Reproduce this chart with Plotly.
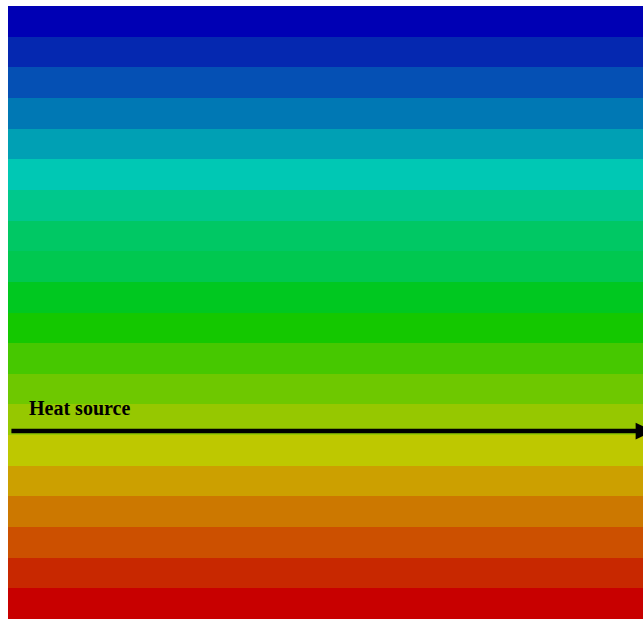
import plotly.graph_objects as go

# Band levels from bottom (hottest) to top (coolest)
levels = list(range(1, 21))
band_colors = [
    "#c80000", "#c82800", "#cc5000", "#cc7800", "#cca000", "#bec800",
    "#96c800", "#6ec800", "#46c800", "#14c800", "#00c820", "#00c850",
    "#00c864", "#00c88c", "#00c8b4", "#00a0b4", "#0078b4", "#0550b4",
    "#0528b0", "#0000b4",
]
label_text = "Heat source"
arrow_level = 6.13

n = len(levels)
colorscale = []
for i, c in enumerate(band_colors):
    colorscale.append([i / n, c])
    colorscale.append([(i + 1) / n, c])

fig = go.Figure(go.Heatmap(
    z=[[v] for v in levels],
    x=[0.5],
    y=[v - 0.5 for v in levels],
    colorscale=colorscale,
    zmin=0.5, zmax=n + 0.5,
    showscale=False,
    hoverinfo="skip",
))

fig.add_annotation(
    x=1.015, y=arrow_level, xref="x", yref="y",
    ax=0.003, ay=arrow_level, axref="x", ayref="y",
    showarrow=True, arrowhead=2, arrowsize=0.75, arrowwidth=4.5,
    arrowcolor="black", text="", standoff=0,
)
fig.add_annotation(
    x=0.03, y=arrow_level + 0.75, xref="x", yref="y",
    text=label_text, showarrow=False, xanchor="left", yanchor="middle",
    font=dict(family="Liberation Serif, Times New Roman, serif", size=20, color="black", weight="bold"),
)

fig.update_xaxes(range=[0, 1], visible=False, showgrid=False)
fig.update_yaxes(range=[0, n], visible=False, showgrid=False)
fig.update_layout(
    width=643, height=619,
    margin=dict(l=8, r=0, t=6, b=0),
    paper_bgcolor="white", plot_bgcolor="white",
    showlegend=False,
)

fig.write_html(
    "out.html",
    config={"displayModeBar": False},
    post_script="document.body.style.margin='0px';document.body.style.overflow='hidden';",
)
